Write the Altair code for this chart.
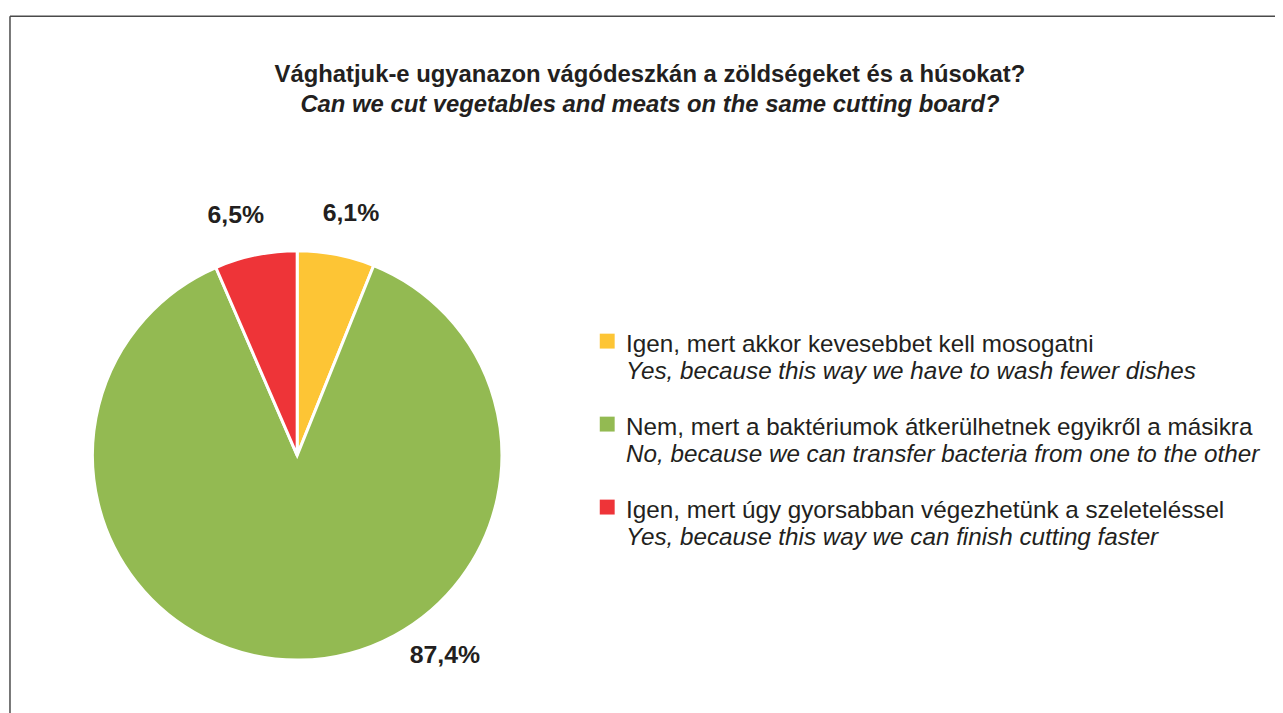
import altair as alt
import pandas as pd
import math

categories = ["yes_fewer_dishes", "no_bacteria", "yes_faster"]
values = [6.1, 87.4, 6.5]
pct_labels = ["6,1%", "87,4%", "6,5%"]
hu_labels = [
    "Igen, mert akkor kevesebbet kell mosogatni",
    "Nem, mert a baktériumok átkerülhetnek egyikről a másikra",
    "Igen, mert úgy gyorsabban végezhetünk a szeleteléssel",
]
en_labels = [
    "Yes, because this way we have to wash fewer dishes",
    "No, because we can transfer bacteria from one to the other",
    "Yes, because this way we can finish cutting faster",
]
colors = ["#FDC535", "#93BA52", "#EE3438"]
title_hu = "Vághatjuk-e ugyanazon vágódeszkán a zöldségeket és a húsokat?"
title_en = "Can we cut vegetables and meats on the same cutting board?"

df = pd.DataFrame({
    "cat": categories,
    "value": values,
    "pct": pct_labels,
    "hu": hu_labels,
    "en": en_labels,
    "idx": list(range(len(categories))),
})

FONT = "Liberation Sans"
TXT = "#231F20"
CX, CY, R = 289, 442, 206
W, H = 1275, 705

color_scale = alt.Scale(domain=categories, range=colors)
base = alt.Chart(df)

pie = base.mark_arc(radius=R, stroke="white", strokeWidth=3).encode(
    theta=alt.Theta("value:Q", stack=True),
    order=alt.Order("idx:O"),
    color=alt.Color("cat:N", scale=color_scale, legend=None),
    x=alt.value(CX),
    y=alt.value(CY),
)

label_angles = {0: 12.5, 1: 143.5, 2: 345.7}
label_layers = []
for i, ang in label_angles.items():
    label_layers.append(
        base.transform_filter(alt.datum.idx == i).mark_text(
            font=FONT, fontSize=25, fontWeight="bold", color=TXT,
            align="center", baseline="middle",
            theta=math.radians(ang), radius=250,
        ).encode(text="pct:N", x=alt.value(CX), y=alt.value(CY))
    )

ysc = alt.Scale(domain=[0, 2], range=[327, 494])
leg_sq = base.mark_square(size=225, opacity=1).encode(
    x=alt.value(601),
    y=alt.Y("idx:Q", scale=ysc, axis=None),
    color=alt.Color("cat:N", scale=color_scale, legend=None),
)
leg_hu = base.mark_text(font=FONT, fontSize=24.4, color=TXT, align="left",
                        baseline="alphabetic", dy=11).encode(
    x=alt.value(620), y=alt.Y("idx:Q", scale=ysc, axis=None), text="hu:N")
leg_en = base.mark_text(font=FONT, fontSize=24.4, fontStyle="italic", color=TXT,
                        align="left", baseline="alphabetic", dy=38).encode(
    x=alt.value(620), y=alt.Y("idx:Q", scale=ysc, axis=None), text="en:N")

title_df = pd.DataFrame({"t1": [title_hu], "t2": [title_en]})
t1 = alt.Chart(title_df).mark_text(font=FONT, fontSize=24, fontWeight="bold",
                                   color=TXT, align="center", baseline="alphabetic").encode(
    x=alt.value(644), y=alt.value(66), text="t1:N")
t2 = alt.Chart(title_df).mark_text(font=FONT, fontSize=24, fontWeight="bold",
                                   fontStyle="italic", color=TXT, align="center",
                                   baseline="alphabetic").encode(
    x=alt.value(644), y=alt.value(96), text="t2:N")

frame_top = alt.Chart(title_df).mark_rule(color="#4a4a4a", strokeWidth=1.5).encode(
    x=alt.value(0), x2=alt.value(W), y=alt.value(0))
frame_left = alt.Chart(title_df).mark_rule(color="#4a4a4a", strokeWidth=1.5).encode(
    x=alt.value(0), y=alt.value(0), y2=alt.value(H))

chart = alt.layer(frame_top, frame_left, pie, *label_layers, leg_sq, leg_hu, leg_en, t1, t2).properties(
    width=W, height=H,
    autosize=alt.AutoSizeParams(type="fit", contains="padding"),
    padding={"left": 1, "top": 5, "right": 0, "bottom": 0},
    background="white",
).configure_view(stroke=None)

chart.save("out.html", embed_options={"renderer": "svg", "actions": False})
